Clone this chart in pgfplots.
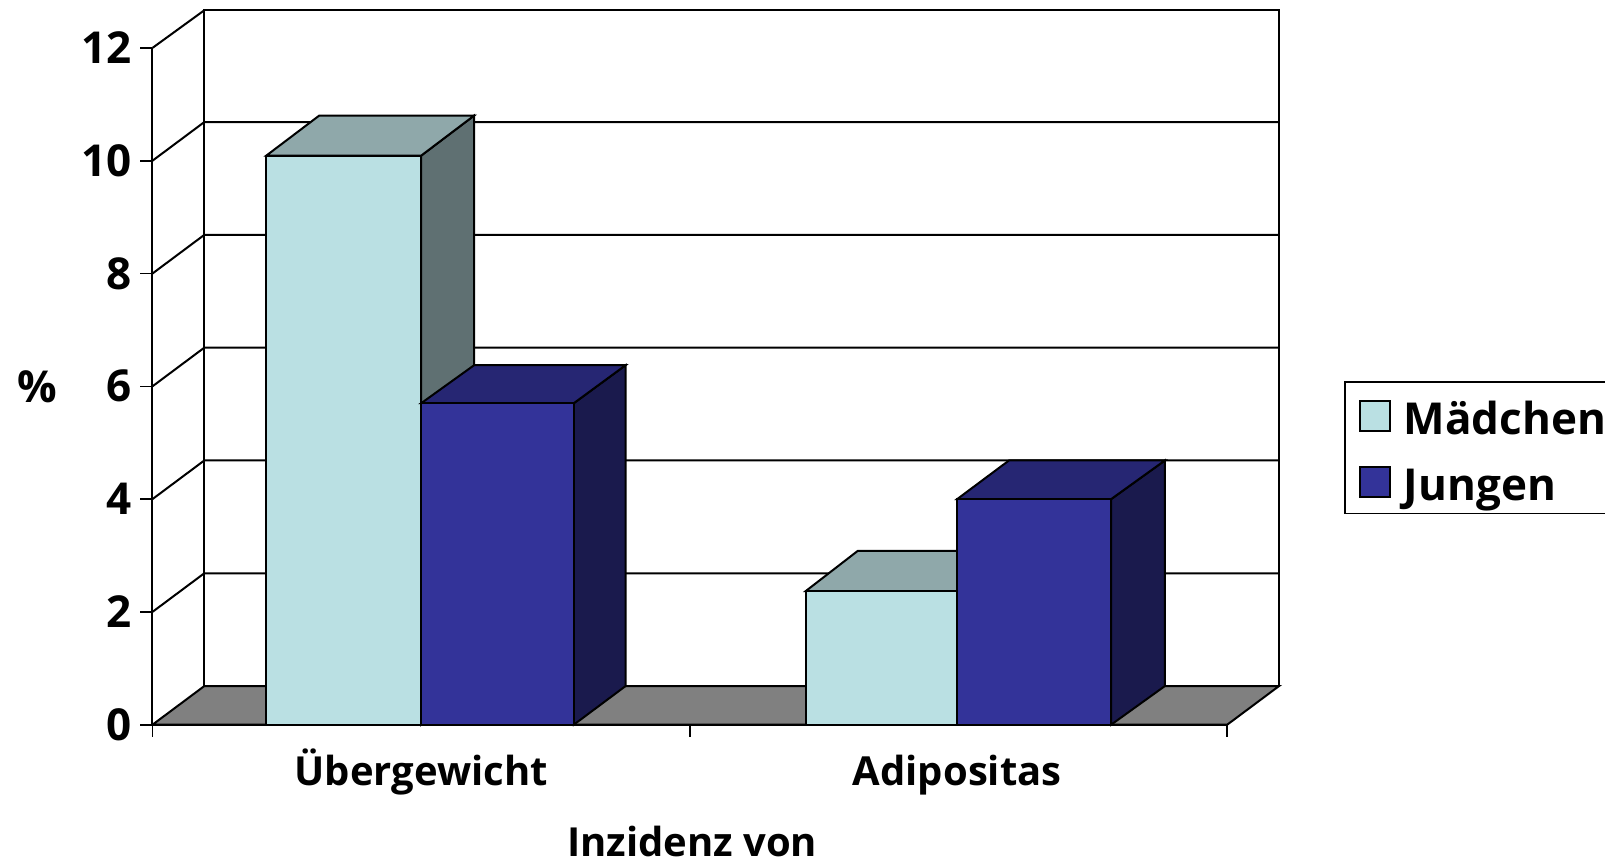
\documentclass[border=0pt]{standalone}
\usepackage{fontspec}
\setmainfont{Open Sans}
\usepackage{pgfplots}
\pgfplotsset{compat=1.18}
\definecolor{mfront}{RGB}{186,224,227}
\definecolor{mtop}{RGB}{143,168,170}
\definecolor{mside}{RGB}{95,112,114}
\definecolor{jfront}{RGB}{51,51,153}
\definecolor{jtop}{RGB}{38,38,115}
\definecolor{jside}{RGB}{26,26,77}
\begin{document}
\begin{tikzpicture}
% 1 px of the reference = 0.5pt
\path[use as bounding box] (-76.25pt,-68.15pt) rectangle +(802.5pt,430.5pt);
\begin{axis}[
  at={(0pt,0pt)}, anchor=south west,
  scale only axis, width=563.25pt, height=357.2pt,
  xmin=0, xmax=2.0964, ymin=0, ymax=12.667,
  clip=false,
  axis x line*=bottom, axis y line*=left,
  axis line style={draw=none},
  tick align=outside,
  tick style={black, line width=0.8pt},
  major tick length=6pt,
  /pgf/number format/assume math mode=true,
  yticklabel style={font=\fontsize{22}{24}\selectfont\bfseries, xshift=-1pt},
  ytick={0,2,...,12},
  xtick={0,1,2}, xticklabels={,,},
  extra x ticks={0.5,1.4975},
  extra x tick labels={Übergewicht,Adipositas},
  extra x tick style={major tick length=0pt,
    tick label style={font=\fontsize{20}{24}\selectfont\bfseries, text height=15pt, text depth=5pt, yshift=-12pt}},
  xlabel={Inzidenz von},
  ylabel={\fontsize{22}{24}\selectfont\%},
  label style={font=\fontsize{20}{24}\selectfont\bfseries, inner sep=0pt},
  xlabel style={at={(rel axis cs:0.479,-0.163)}, anchor=center},
  ylabel style={at={(rel axis cs:-0.1025,0.4727)}, anchor=center, rotate=-90},
  legend style={at={(1.0577,0.4811)}, anchor=north west, draw=black, line width=0.8pt,
    font=\fontsize{22}{24}\selectfont\bfseries, inner xsep=7pt, inner ysep=3pt,
    row sep=5.9pt, nodes={text height=21.5pt, text depth=1.5pt}, cells={anchor=west}},
  legend cell align=left,
  legend image code/.code={\draw[#1] (0.5pt,-8pt) rectangle (15.5pt,7pt); \path (20pt,0pt);},
  every axis plot/.append style={line width=1pt, no markers, forget plot},
]
% floor
\addplot[fill=gray, draw=black] coordinates {(0,0) (2,0) (2.0964,0.685) (0.0964,0.685)} --cycle;
% back wall and gridlines
\addplot[black] coordinates {(0.0964,0.685) (0.0964,12.667) (2.0964,12.667) (2.0964,0.685)};
\addplot[black] coordinates {(0,2) (0.0964,2.685) (2.0964,2.685)};
\addplot[black] coordinates {(0,4) (0.0964,4.685) (2.0964,4.685)};
\addplot[black] coordinates {(0,6) (0.0964,6.685) (2.0964,6.685)};
\addplot[black] coordinates {(0,8) (0.0964,8.685) (2.0964,8.685)};
\addplot[black] coordinates {(0,10) (0.0964,10.685) (2.0964,10.685)};
\addplot[black] coordinates {(0,12) (0.0964,12.667)};
% left wall front edge
\addplot[black] coordinates {(0,0) (0,12)};
% Maedchen, Uebergewicht
\addplot[fill=mside, draw=black] coordinates {(0.5,0) (0.5985,0.685) (0.5985,10.80) (0.5,10.09)} --cycle;
\addplot[fill=mtop, draw=black] coordinates {(0.2118,10.09) (0.5,10.09) (0.5985,10.80) (0.3103,10.80)} --cycle;
\addplot[fill=mfront, draw=black] coordinates {(0.2118,0) (0.5,0) (0.5,10.09) (0.2118,10.09)} --cycle;
% Jungen, Uebergewicht
\addplot[fill=jside, draw=black] coordinates {(0.784,0) (0.8804,0.685) (0.8804,6.374) (0.784,5.7)} --cycle;
\addplot[fill=jtop, draw=black] coordinates {(0.5,5.7) (0.784,5.7) (0.8804,6.374) (0.5985,6.374)} --cycle;
\addplot[fill=jfront, draw=black] coordinates {(0.5,0) (0.784,0) (0.784,5.7) (0.5,5.7)} --cycle;
% Maedchen, Adipositas
\addplot[fill=mtop, draw=black] coordinates {(1.2158,2.37) (1.4975,2.37) (1.5939,3.08) (1.3122,3.08)} --cycle;
\addplot[fill=mfront, draw=black] coordinates {(1.2158,0) (1.4975,0) (1.4975,2.37) (1.2158,2.37)} --cycle;
% Jungen, Adipositas
\addplot[fill=jside, draw=black] coordinates {(1.784,0) (1.884,0.685) (1.884,4.685) (1.784,4)} --cycle;
\addplot[fill=jtop, draw=black] coordinates {(1.4975,4) (1.784,4) (1.884,4.685) (1.5939,4.685)} --cycle;
\addplot[fill=jfront, draw=black] coordinates {(1.4975,0) (1.784,0) (1.784,4) (1.4975,4)} --cycle;
% front floor edge
\addplot[black, line width=1.2pt] coordinates {(0,0) (2,0)};
\addlegendimage{fill=mfront, draw=black}
\addlegendentry{Mädchen}
\addlegendimage{fill=jfront, draw=black}
\addlegendentry{Jungen}
\end{axis}
\end{tikzpicture}
\end{document}
